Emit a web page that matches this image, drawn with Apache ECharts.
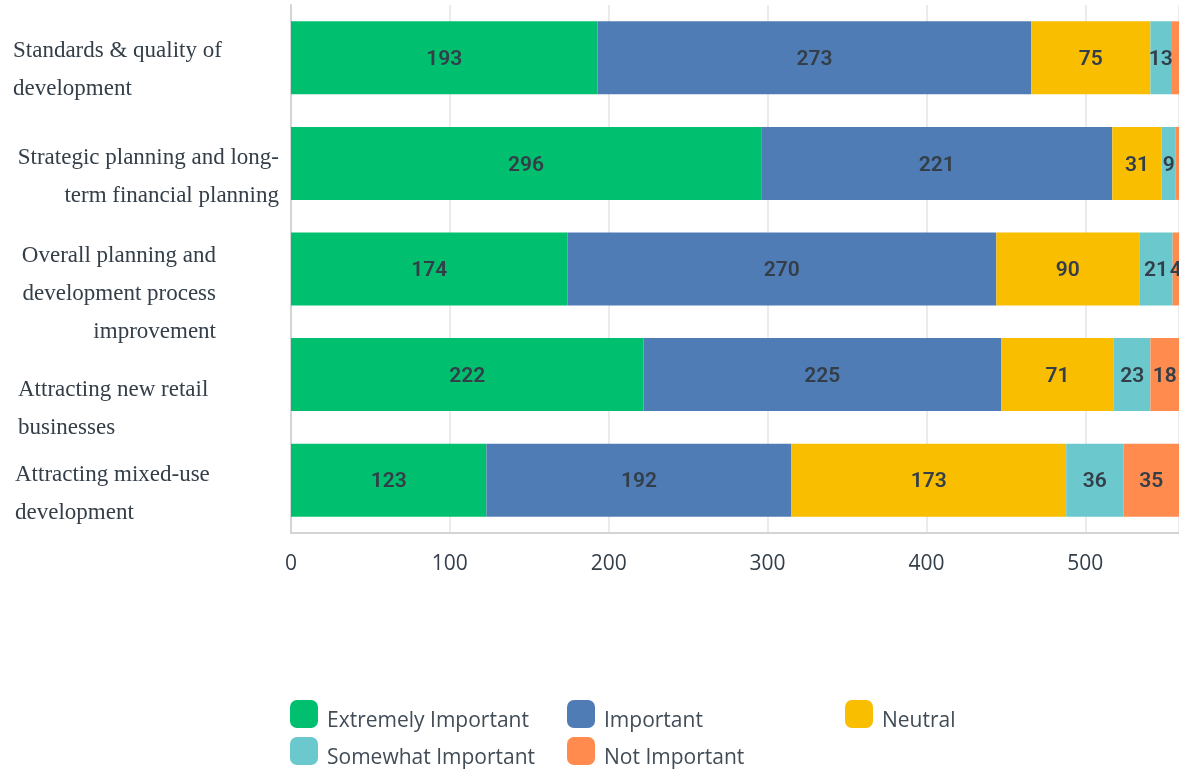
<!DOCTYPE html>
<html>
<head>
<meta charset="utf-8">
<script src="https://cdn.jsdelivr.net/npm/echarts@6/dist/echarts.min.js"></script>
<style>
html,body{margin:0;padding:0;background:#fff;}
#chart{width:1179px;height:772px;}
</style>
</head>
<body>
<div id="chart"></div>
<script>
// ---- data ----
var categoryLines = [
  ['Standards & quality of', 'development'],
  ['Strategic planning and long-', 'term financial planning'],
  ['Overall planning and', 'development process', 'improvement'],
  ['Attracting new retail', 'businesses'],
  ['Attracting mixed-use', 'development']
];
var seriesNames = ['Extremely Important', 'Important', 'Neutral', 'Somewhat Important', 'Not Important'];
var extremelyImportant = [193, 296, 174, 222, 123];
var important = [273, 221, 270, 225, 192];
var neutral = [75, 31, 90, 71, 173];
var somewhatImportant = [13, 9, 21, 23, 36];
var notImportant = [5, 2, 4, 18, 35];
var xTicks = [0, 100, 200, 300, 400, 500];

// ---- styling ----
var colors = ['#00bf6f', '#507cb6', '#f9be00', '#6bc8cd', '#ff8b4f'];
var textDark = '#333e48';
var serif = '"Liberation Serif", "DejaVu Serif", serif';
var labelFont = 23;
var lineH = 38;
// per-category label layout: line style and vertical spacer
var labelLayout = [
  {style: 'la', spacer: 24},
  {style: 'ra', spacer: 27},
  {style: 'rb', spacer: 50},
  {style: 'lb', spacer: 68},
  {style: 'lc', spacer: 28}
];
var hiddenLabels = {'4_0': true, '4_1': true};
// legend item placement (same order as seriesNames)
var legendPos = [[290, 700], [567, 700], [845, 700], [290, 737], [567, 737]];

function richBase(extra) {
  var o = {fontFamily: serif, fontSize: labelFont, color: textDark, lineHeight: lineH};
  for (var k in extra) o[k] = extra[k];
  return o;
}
var rich = {
  la: richBase({align: 'left'}),
  ra: richBase({align: 'right'}),
  rb: richBase({align: 'right', padding: [0, 63, 0, 0]}),
  lb: richBase({align: 'left', padding: [0, 0, 0, 5]}),
  lc: richBase({align: 'left', padding: [0, 0, 0, 2]})
};
labelLayout.forEach(function (l) {
  rich['sp' + l.spacer] = {fontFamily: serif, fontSize: 1, lineHeight: l.spacer, color: 'rgba(0,0,0,0)'};
});

var seriesData = [extremelyImportant, important, neutral, somewhatImportant, notImportant];
var legendFont = {fontFamily: '"Open Sans", sans-serif', fontSize: 21, color: '#414c57'};

var chart = echarts.init(document.getElementById('chart'), null, {renderer: 'canvas'});
var option = {
  animation: false,
  color: colors,
  grid: {left: 291, right: 0, top: 5, bottom: 239, containLabel: false, outerBoundsMode: 'none'},
  legend: seriesNames.map(function (name, i) {
    return {
      data: [name],
      left: legendPos[i][0], top: legendPos[i][1],
      orient: 'horizontal',
      itemWidth: 28, itemHeight: 28,
      icon: 'roundRect',
      padding: 0,
      formatter: '{t|{name}}',
      textStyle: {
        fontFamily: legendFont.fontFamily, fontSize: legendFont.fontSize, color: legendFont.color,
        rich: {t: {fontFamily: legendFont.fontFamily, fontSize: legendFont.fontSize, color: legendFont.color,
                   lineHeight: 36, verticalAlign: 'bottom', padding: [0, 0, 0, 4]}}
      }
    };
  }),
  xAxis: {
    type: 'value', min: xTicks[0], max: 559, interval: xTicks[1] - xTicks[0],
    axisLine: {show: true, lineStyle: {color: '#d4d4d4', width: 2}},
    axisTick: {show: false},
    splitLine: {show: true, lineStyle: {color: '#ebebeb', width: 2}},
    axisLabel: {showMaxLabel: false, margin: 21, fontFamily: '"Open Sans", sans-serif', fontSize: 21, color: textDark}
  },
  yAxis: {
    type: 'category', inverse: true,
    data: categoryLines.map(function (l) { return l.join(' '); }),
    axisLine: {show: true, lineStyle: {color: '#d4d4d4', width: 2}},
    axisTick: {show: false},
    splitLine: {show: false},
    axisLabel: {
      interval: 0, margin: 12, align: 'right', verticalAlign: 'middle', width: 266, overflow: 'none',
      fontFamily: serif, fontSize: labelFont, color: textDark, lineHeight: lineH,
      formatter: function (v, i) {
        var lay = labelLayout[i];
        var out = ['{sp' + lay.spacer + '| }'];
        categoryLines[i].forEach(function (ln) { out.push('{' + lay.style + '|' + ln + '}'); });
        return out.join('\n');
      },
      rich: rich
    }
  },
  series: seriesNames.map(function (name, si) {
    return {
      name: name, type: 'bar', stack: 'total', barWidth: 73,
      itemStyle: {color: colors[si]},
      label: {
        show: true, position: 'inside', offset: [0, 2],
        fontFamily: 'Roboto, "Noto Sans", sans-serif', fontSize: 21, fontWeight: 600, color: textDark
      },
      data: seriesData[si].map(function (v, i) {
        return hiddenLabels[si + '_' + i] ? {value: v, label: {show: false}} : v;
      })
    };
  })
};
chart.setOption(option);
</script>
</body>
</html>
